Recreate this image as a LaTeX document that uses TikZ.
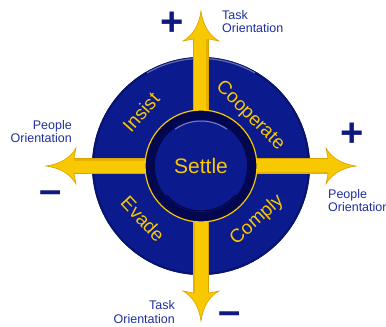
\documentclass[tikz,border=0pt]{standalone}
\usepackage{fontspec}
\setmainfont{Liberation Sans}
\definecolor{diskblue}{HTML}{0B1A8C}
\definecolor{rimblue}{HTML}{08136A}
\definecolor{ringnavy}{HTML}{03074F}
\definecolor{gold}{HTML}{F8C800}
\definecolor{darkgold}{HTML}{DCA200}
\definecolor{labelblue}{HTML}{1E2E9E}
\definecolor{signblue}{HTML}{0E1A7E}
\tikzset{
  quad/.style={text=gold, font=\fontsize{19}{19}\selectfont, inner sep=0pt},
  axislabel/.style={text=labelblue, font=\fontsize{12.5}{13.5}\selectfont, inner sep=0pt},
  sign/.style={text=signblue, font=\fontsize{40}{40}\selectfont\bfseries, inner sep=0pt},
}
\begin{document}
\begin{tikzpicture}[x=1pt,y=1pt]
\useasboundingbox (-201,-161) rectangle (185,166);
% Outer disk
\fill[diskblue] (0,0) circle (109);
\draw[rimblue, line width=2] (0,0) circle (108);
\draw[white!35!diskblue, line width=1.2] (60:107.5) arc (60:120:107.5);
% Arrows
\foreach \a/\n in {90/up, 0/right, 270/down, 180/left} {
  \begin{scope}[rotate=\a]
    \fill[gold, draw=darkgold, line width=0.6]
      (40,-7.5) -- (127,-7.5) -- (125,-18) .. controls (130,-9) and (140,-2) .. (155,0)
      .. controls (140,2) and (130,9) .. (125,18) -- (127,7.5) -- (40,7.5) -- cycle;
    \fill[darkgold!60!gold] (40,-7.5) -- (127,-7.5) -- (127,-5.5) -- (40,-5.5) -- cycle;
    \coordinate (\n) at (155,0);
  \end{scope}
}
% Centre
\node[circle, draw=gold, line width=1.2, fill=ringnavy, minimum size=112] (ring) at (0,0) {};
\node[circle, fill=diskblue, minimum size=92, inner sep=0pt, text=gold,
  font=\fontsize{21}{21}\selectfont] (settle) at (ring) {Settle};
\draw[white!45!diskblue, line width=1] (settle.center) ++(55:45) arc (55:125:45);
\draw[ringnavy!70!black, line width=1] (settle.center) ++(-40:45) arc (-40:-140:45);
% Quadrants
\node[quad, rotate=48] (insist) at (-60,54) {Insist};
\node[quad, rotate=-45] (coop) at (49,50) {Cooperate};
\node[quad, rotate=42] (comply) at (56,-54) {Comply};
\node[quad, rotate=-47] (evade) at (-58,-53) {Evade};
% Axis labels
\node[axislabel, anchor=west, align=left] (taskhi) at (21,144.5) {Task\\Orientation};
\node[axislabel, anchor=east, align=right] (peoplelo) at (-129,34.5) {People\\Orientation};
\node[axislabel, anchor=west, align=left] (peoplehi) at (127,-34.5) {People\\Orientation};
\node[axislabel, anchor=east, align=right] (tasklo) at (-26,-146) {Task\\Orientation};
% Signs
\foreach \x/\y/\s/\n in {-29/142/+/plustask, 151/31/+/pluspeople, -150/-31/--/minuspeople, 29/-152/--/minustask}
  \node[sign] (\n) at (\x,\y) {\s};
\end{tikzpicture}
\end{document}
